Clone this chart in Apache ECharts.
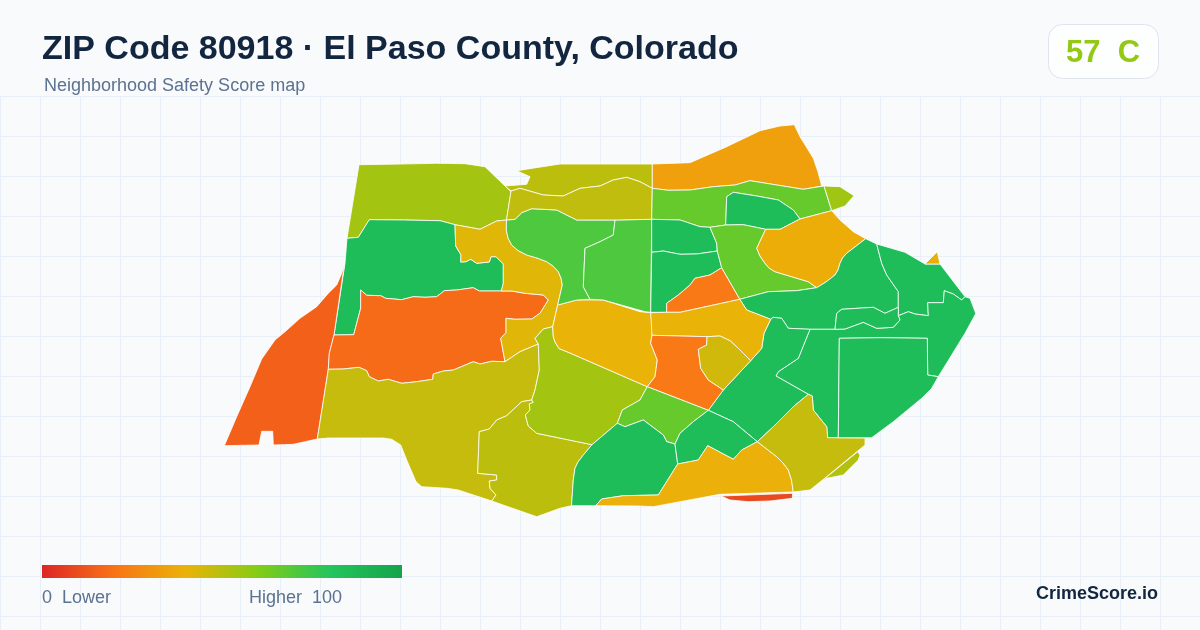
<!DOCTYPE html>
<html><head><meta charset="utf-8">
<style>html,body{margin:0;padding:0;background:#f8fafc}#c{width:1200px;height:630px}</style>
<script src="https://cdn.jsdelivr.net/npm/echarts@6/dist/echarts.min.js"></script>
</head><body><div id="c"></div>
<script>
const titleText = "ZIP Code 80918 · El Paso County, Colorado";
const subtitleText = "Neighborhood Safety Score map";
const overallScore = 57, overallGrade = "C";
const scaleMin = 0, scaleMax = 100;
const scaleColors = ["#dc2626","#f97316","#eab308","#84cc16","#22c55e","#16a34a"];
const brandText = "CrimeScore.io";

const regionNames = ["A","B","C","D","E","F","G","H","I","J","K","L","M","N","O","P","Q","R","S","T","U","V","W","X","Y","AA","AB","AC","AD","AE","AF","AG","AH","AI","AJ","AK","AL","AM","Z"];
const regionValues = [54,85,15,18,42,47,49,54,40,71,71,49,48,34,66,85,55,85,85,22,66,38,85,85,38,85,85,85,40,22,45,66,85,85,39,9,47,51,85];
const regionShapes = {
A:[[359,164.7],[386.7,164.3],[436.7,163.3],[465,163.7],[485,166.7],[505,186],[511,191.7],[506.5,220],[496.7,221],[480,229.3],[455,224.7],[440,220.7],[403.3,220],[369.3,219.7],[358.3,237.3],[347,238.3]],
B:[[369.3,219.7],[403.3,220],[440,220.7],[455,224.7],[455.7,246],[461,255],[460.7,262],[466,261.7],[470.7,259.3],[476.7,263.3],[489.3,262],[491,256.7],[496,256.7],[503.3,264],[503.3,283.3],[501.3,291],[479.3,291],[473.3,287.7],[456.7,290],[444.3,290.7],[436.7,296.7],[425,297.3],[413.3,296.7],[401.7,299.7],[385.7,298.3],[380.7,295.7],[366.7,295.3],[360.7,290],[360.7,308.3],[353.7,334.7],[334,335],[345,263.3],[347,238.3],[358.3,237.3]],
C:[[344.5,263.3],[341.7,273.3],[336.7,285],[328.3,293.3],[316.7,306.7],[300,318.3],[285,331.7],[275,340],[261.7,359],[250,386.7],[236.7,416.7],[224.3,445.7],[259,445],[261.7,431.3],[272.7,431.3],[273.3,445],[293.3,444.3],[317.3,439],[328.3,369.3],[329.3,353.3],[334,335]],
D:[[334,335],[353.7,334.7],[360.7,308.3],[360.7,290],[366.7,295.3],[380.7,295.7],[385.7,298.3],[401.7,299.7],[413.3,296.7],[425,297.3],[436.7,296.7],[444.3,290.7],[456.7,290],[473.3,287.7],[479.3,291],[501.3,291],[511.7,291],[525,293.3],[543.3,295],[548.3,300],[540,313.3],[531.7,319],[515,319.3],[506,318.3],[506,332.7],[500.7,338.3],[505,361.7],[491.7,361.3],[480,364],[473.3,361.7],[453.3,370],[443.3,371],[433.3,374],[432.7,379.3],[416.7,381.7],[401.7,383.3],[388.3,379.3],[378.3,381],[369.3,376.7],[366.7,370.7],[359,367.3],[343.3,369],[328.3,369.3],[329.3,353.3]],
E:[[455,224.7],[480,229.3],[496.7,221],[506.5,220],[506.3,230],[508,238],[511.7,245],[518,250.5],[526.7,255],[537,258],[546.7,261.7],[553,266],[558.3,271.7],[561,278],[562.3,285],[557.7,305],[552.7,326.7],[543.3,329],[535,338.3],[538.3,344],[520,351.7],[505,361.7],[500.7,338.3],[506,332.7],[506,318.3],[515,319.3],[531.7,319],[540,313.3],[548.3,300],[543.3,295],[525,293.3],[511.7,291],[501.3,291],[503.3,283.3],[503.3,264],[496,256.7],[491,256.7],[489.3,262],[476.7,263.3],[470.7,259.3],[466,261.7],[460.7,262],[461,255],[455.7,246]],
F:[[317.3,439],[328.3,369.3],[343.3,369],[359,367.3],[366.7,370.7],[369.3,376.7],[378.3,381],[388.3,379.3],[401.7,383.3],[416.7,381.7],[432.7,379.3],[433.3,374],[443.3,371],[453.3,370],[473.3,361.7],[480,364],[491.7,361.3],[505,361.7],[520,351.7],[538.3,344],[539.3,370],[535,390],[531.7,400],[521.7,401.7],[506.7,415.7],[496.7,420],[489.3,429],[479.3,431.7],[477.7,473.3],[496.7,475],[496.7,480],[489.3,481],[490,488.3],[496,495],[491.7,501],[458.3,490],[446.7,488.3],[421.7,486.7],[416,481.7],[406.7,460],[400.7,445],[391.7,439.3],[383.3,438],[328.3,438]],
G:[[479.3,431.7],[489.3,429],[496.7,420],[506.7,415.7],[521.7,401.7],[531.7,400],[533.3,402.3],[529.3,404],[530,410],[525.3,415],[528.3,426],[536.7,433.3],[592,444.7],[583.3,455],[578,462],[575,468.3],[573.3,480],[571.5,505.7],[560,508.3],[536.7,516.7],[491.7,501],[496,495],[490,488.3],[489.3,481],[496.7,480],[496.7,475],[477.7,473.3]],
H:[[538.3,344],[535,338.3],[543.3,329],[552.7,326.7],[553.3,336.7],[555,342],[559,348.5],[570,353],[647.3,386.7],[640,400],[622.3,410],[617.3,423.3],[592,444.7],[536.7,433.3],[528.3,426],[525.3,415],[530,410],[529.3,404],[533.3,402.3],[531.7,400],[535,390],[539.3,370]],
I:[[557.7,305],[576.7,300],[593,300],[603.3,300],[640,311.7],[650.7,312.7],[652.7,330],[650.7,343.3],[657.3,360],[655,376.7],[647.3,386.7],[570,353],[559,348.5],[555,342],[553.3,336.7],[552.7,326.7]],
J:[[506.5,220],[515,219.3],[521.7,212.7],[531.7,208.7],[556.7,210],[576.7,220],[600,220],[615,220],[613.3,235],[600,241.7],[585,248.3],[583.3,286.7],[590,299.3],[576.7,300],[557.7,305],[562.3,285],[561,278],[558.3,271.7],[553,266],[546.7,261.7],[537,258],[526.7,255],[518,250.5],[511.7,245],[508,238],[506.3,230]],
K:[[615,220],[651.7,219.3],[650.7,312.3],[645,311.7],[603.3,300],[590,299.3],[583.3,286.7],[585,248.3],[600,241.7],[613.3,235]],
L:[[516.7,170.7],[560,164],[610,164],[652.3,164],[652.3,188.3],[640,181.7],[626.7,177.3],[613.3,180],[600,186],[580,188.3],[563.3,196],[543.3,195],[520,188.3],[511,191],[505,186],[526.7,184.3],[530,176.7]],
M:[[511,191],[520,188.3],[543.3,195],[563.3,196],[580,188.3],[600,186],[613.3,180],[626.7,177.3],[640,181.7],[652.3,188.3],[651.7,219.3],[615,220],[576.7,220],[556.7,210],[531.7,208.7],[521.7,212.7],[515,219.3],[506.5,220]],
N:[[652.3,164],[690,162.7],[726.7,146.7],[760,130.7],[780,126],[794.3,124.7],[800,136.7],[807,148],[813.3,158.3],[818,172],[821.7,186],[803.3,189.3],[776.7,185],[750,180.7],[735,185],[713.3,186.7],[690,190],[668.3,190.3],[652.3,188.3]],
O:[[652.3,188.3],[668.3,190.3],[690,190],[713.3,186.7],[735,185],[750,180.7],[776.7,185],[803.3,189.3],[824,186],[831.7,210.7],[800,219],[793.3,210],[778.3,200],[756.7,196],[733.3,192.3],[726.7,196.7],[725.7,225],[710,227.3],[700,226.7],[680,220],[651.7,219.3]],
P:[[726.7,196.7],[733.3,192.3],[756.7,196],[778.3,200],[793.3,210],[800,219],[780,229.3],[765.7,229.3],[743.3,224.7],[725.7,225]],
Q:[[824,186],[840,186.7],[854,195.7],[845,206],[831.7,210.7]],
R:[[651.7,219.3],[680,220],[700,226.7],[710,227.3],[716.7,243.3],[717.3,251],[696.7,254],[680,254.3],[663.3,251],[651.7,252.3]],
S:[[651.7,252.3],[663.3,251],[680,254.3],[696.7,254],[717.3,251],[721.7,267.7],[710,275],[695,278.3],[690,285],[678.3,295],[666.7,303.3],[666.7,312.3],[650.7,312.3]],
T:[[721.7,267.7],[739.8,299.3],[680,312.3],[666.7,312.3],[666.7,303.3],[678.3,295],[690,285],[695,278.3],[710,275]],
U:[[710,227.3],[725.7,225],[743.3,224.7],[765.7,229.3],[756.7,248.3],[760,256],[765,263.3],[769,268],[775,271.7],[808.3,281.7],[816.7,287.7],[796.7,290.7],[768.3,291.7],[739.8,299.3],[721.7,267.7],[717.3,251],[716.7,243.3]],
V:[[765.7,229.3],[780,229.3],[800,219],[831.7,210.7],[840,220],[853.3,231.7],[865.7,238.7],[846.7,253.3],[842.5,258],[840,263.3],[838,270],[835,275],[826,282],[816.7,287.7],[808.3,281.7],[775,271.7],[769,268],[765,263.3],[760,256],[756.7,248.3]],
W:[[865.7,238.7],[876.7,244],[881.7,263.3],[886.7,275],[898.3,291.7],[898.3,307.3],[885,313.3],[873.3,307.3],[841.7,309.3],[836.7,313.3],[835,329.3],[810,329.3],[788.3,328.3],[781.7,318.3],[773.3,317.3],[770.7,319.3],[746.7,310],[739.8,299.3],[768.3,291.7],[796.7,290.7],[816.7,287.7],[826,282],[835,275],[838,270],[840,263.3],[842.5,258],[846.7,253.3]],
X:[[876.7,244],[905,252.3],[925,264],[940,264],[965,296.7],[961.7,300],[953.3,294],[944.3,290.7],[943.3,302.7],[927.7,302.7],[928.3,315.7],[915,314],[908.3,311.7],[898.3,315.7],[898.3,307.3],[898.3,291.7],[886.7,275],[881.7,263.3]],
Y:[[925,264],[937.3,251.7],[940,264]],
AA:[[810,329.3],[835,329.3],[845,329],[863.3,322.3],[876.7,328.3],[893.3,327.3],[900,320],[898.3,315.7],[908.3,311.7],[915,314],[928.3,315.7],[927.7,302.7],[943.3,302.7],[944.3,290.7],[953.3,294],[961.7,300],[965,296.7],[970,298.3],[975.7,313.3],[975,315],[965,333.3],[938.3,376.7],[927.7,375],[927.3,338.3],[881.7,337.7],[839.3,338.3],[838.3,437.7],[827.7,437.7],[826.7,426.7],[813.3,410],[812.3,396],[808.3,394.3],[776,376],[778.3,371.7],[798.3,358.3]],
AB:[[835,329.3],[836.7,313.3],[841.7,309.3],[873.3,307.3],[885,313.3],[898.3,307.3],[898.3,315.7],[900,320],[893.3,327.3],[876.7,328.3],[863.3,322.3],[845,329]],
AC:[[770.7,319.3],[773.3,317.3],[781.7,318.3],[788.3,328.3],[810,329.3],[798.3,358.3],[778.3,371.7],[776,376],[808.3,394.3],[793.3,406.7],[773.3,426.7],[757.3,441.7],[733.3,421.7],[708.3,410.3],[723.3,390],[750.7,360.7],[761.7,348.3],[764,333.3]],
AD:[[650.7,312.7],[666.7,312.3],[680,312.3],[739.8,299.3],[746.7,310],[770.7,319.3],[764,333.3],[761.7,348.3],[750.7,360.7],[738.3,348.3],[730,340.7],[720,336],[706.7,336.7],[652,335.3]],
AE:[[652,335.3],[707,336.7],[706.7,345],[698.3,349.3],[700.7,368.3],[708.3,380],[723.3,390],[708.3,410.3],[647.3,386.7],[655,376.7],[657.3,360],[650.7,343.3]],
AF:[[707,336.7],[720,336],[730,340.7],[738.3,348.3],[750.7,360.7],[723.3,390],[708.3,380],[700.7,368.3],[698.3,349.3],[706.7,345]],
AG:[[647.3,386.7],[708.3,410.3],[693.3,421.7],[680,433.3],[675,444],[666.7,441.7],[663.3,435],[643.3,420],[625,426.7],[617.3,423.3],[622.3,410],[640,400]],
AH:[[592,444.7],[617.3,423.3],[625,426.7],[643.3,420],[663.3,435],[666.7,441.7],[675,444],[677.7,464],[658.3,495],[623.3,495.7],[601.7,499],[595.7,505.7],[571.5,505.7],[573.3,480],[575,468.3],[578,462],[583.3,455]],
AI:[[708.3,410.3],[733.3,421.7],[757.3,441.7],[741.7,450],[733.3,459.3],[707.7,445.7],[698.3,460],[677.7,464],[675,444],[680,433.3],[693.3,421.7]],
AJ:[[757.3,441.7],[776.7,456.7],[783,463],[788.3,470],[791.5,480],[793.3,492],[720,494.3],[653.3,506.7],[638.3,506],[595.7,505.7],[601.7,499],[623.3,495.7],[658.3,495],[677.7,464],[698.3,460],[707.7,445.7],[733.3,459.3],[741.7,450]],
AK:[[721,496],[792.7,493.3],[792.3,498.3],[770,501],[748.3,501.7],[730,500]],
AL:[[757.3,441.7],[773.3,426.7],[793.3,406.7],[808.3,394.3],[812.3,396],[813.3,410],[826.7,426.7],[827.7,437.7],[865,438],[865,445],[826.7,476.7],[810,490],[793.3,492],[791.5,480],[788.3,470],[783,463],[776.7,456.7]],
AM:[[857.7,451.7],[860,455],[858.3,460],[843.3,475],[826.7,478.3],[817,485]],
Z:[[839.3,338.3],[881.7,337.7],[927.3,338.3],[927.7,375],[938.3,376.7],[931.7,388.3],[921.7,398.3],[893.3,421.7],[871.7,437.7],[838.3,437.7]]
};

const features = regionNames.map(n => ({
  type: "Feature", properties: { name: n },
  geometry: { type: "Polygon", coordinates: [regionShapes[n]] }
}));
echarts.registerMap("zip", { type: "FeatureCollection", features });

const allPts = regionNames.flatMap(n => regionShapes[n]);
const minX = Math.min(...allPts.map(p => p[0])), maxX = Math.max(...allPts.map(p => p[0]));
const minY = Math.min(...allPts.map(p => p[1])), maxY = Math.max(...allPts.map(p => p[1]));

const gridColor = "#e9eff6";
const gridLines = [];
for (let x = 0; x <= 1200; x += 40) gridLines.push({ type: "line", silent: true, z: 0, shape: { x1: x + .5, y1: 97, x2: x + .5, y2: 630 }, style: { stroke: gridColor, lineWidth: 1 } });
for (let y = 96; y <= 630; y += 40) gridLines.push({ type: "line", silent: true, z: 0, shape: { x1: 0, y1: y + .5, x2: 1200, y2: y + .5 }, style: { stroke: gridColor, lineWidth: 1 } });

const chart = echarts.init(document.getElementById("c"), null, { renderer: "canvas", width: 1200, height: 630 });
const sans = "'Liberation Sans', Arial, sans-serif";
const muted = "#5b7290", ink = "#12263f";
const legendGradient = new echarts.graphic.LinearGradient(0, 0, 1, 0,
  scaleColors.map((color, i) => ({ offset: i / (scaleColors.length - 1), color })));
chart.setOption({
  backgroundColor: "#f8fafc",
  animation: false,
  tooltip: { show: false },
  visualMap: {
    type: "continuous", min: scaleMin, max: scaleMax, show: false,
    inRange: { color: scaleColors }, seriesIndex: 0
  },
  series: [{
    type: "map", map: "zip", silent: true, roam: false,
    projection: { project: p => p, unproject: p => p },
    left: minX, top: minY, width: maxX - minX, height: maxY - minY,
    label: { show: false },
    itemStyle: { borderColor: "#ffffff", borderWidth: 0.8 },
    emphasis: { disabled: true }, select: { disabled: true },
    data: regionNames.map((n, i) => ({ name: n, value: regionValues[i] }))
  }],
  graphic: [
    ...gridLines,
    { type: "text", z: 5, x: 42, y: 50, style: { text: titleText, font: "bold 34px " + sans, fill: ink, textVerticalAlign: "middle" } },
    { type: "text", z: 5, x: 44, y: 86, style: { text: subtitleText, font: "18px " + sans, fill: muted, textVerticalAlign: "middle" } },
    { type: "rect", z: 5, shape: { x: 1048.5, y: 24.5, width: 110, height: 54, r: 14 }, style: { fill: "#fdfefe", stroke: "#dde4ee", lineWidth: 1 } },
    { type: "text", z: 6, x: 1103, y: 53, style: { text: overallScore + "  " + overallGrade, font: "bold 31px " + sans, fill: "#93c814", textAlign: "center", textVerticalAlign: "middle" } },
    { type: "rect", z: 5, shape: { x: 42, y: 565, width: 360, height: 13 }, style: { fill: legendGradient } },
    { type: "text", z: 5, x: 42, y: 598, style: { text: scaleMin + "  Lower", font: "18px " + sans, fill: muted, textVerticalAlign: "middle" } },
    { type: "text", z: 5, x: 249, y: 598, style: { text: "Higher  " + scaleMax, font: "18px " + sans, fill: muted, textVerticalAlign: "middle" } },
    { type: "text", z: 5, x: 1158, y: 594, style: { text: brandText, font: "bold 18px " + sans, fill: ink, textAlign: "right", textVerticalAlign: "middle" } }
  ]
});
</script></body></html>
